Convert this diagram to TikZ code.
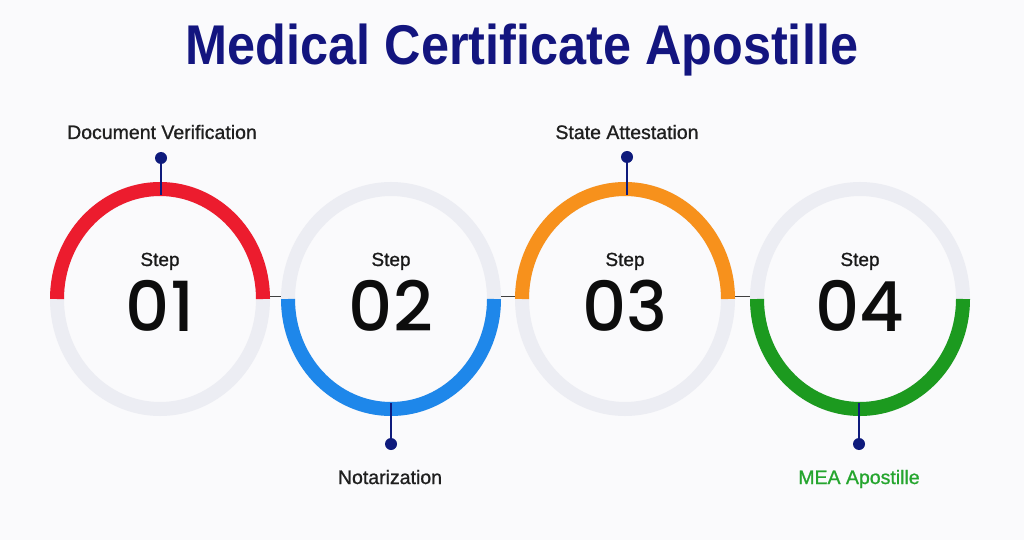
\documentclass[tikz,border=0pt]{standalone}
\usepackage{fontspec}
\usetikzlibrary{calc}
\setmainfont{Liberation Sans}
\newfontfamily\popfont{Poppins}[UprightFont=* Medium]
\newfontfamily\lblfont{Liberation Sans}[FakeBold=1.0]
\definecolor{bgc}{HTML}{FAFAFC}
\definecolor{ringgray}{HTML}{ECEDF3}
\definecolor{navy}{HTML}{0E1A7C}
\definecolor{titlec}{HTML}{13157F}
\definecolor{cred}{HTML}{EC1C2E}
\definecolor{cblue}{HTML}{1E87EA}
\definecolor{corange}{HTML}{F7911C}
\definecolor{cgreen}{HTML}{1C9A1F}
\definecolor{lgreen}{HTML}{25A52E}
\tikzset{
  ringbase/.style={draw=ringgray,line width=14pt},
  ringcol/.style={line width=14pt},
  pin/.style={draw=navy,line width=1.3pt},
  pindot/.style={circle,fill=navy,inner sep=0pt,minimum size=12pt},
  steptxt/.style={anchor=base,inner sep=0pt,font=\lblfont\fontsize{19}{20}\selectfont,text=black!90},
  numtxt/.style={anchor=base,inner sep=0pt,font=\popfont\fontsize{69}{70}\selectfont,text=black!95},
  lbl/.style={anchor=base,inner sep=0pt,font=\lblfont\fontsize{19.5}{20}\selectfont,text=black!88},
  link/.style={draw=black!75,line width=1pt}
}
\begin{document}
\begin{tikzpicture}[x=1pt,y=-1pt]
\fill[bgc] (0,0) rectangle (1024,540);
\useasboundingbox (0,0) rectangle (1024,540);
\node[anchor=base,inner sep=0pt,font=\bfseries\fontsize{56}{60}\selectfont,text=titlec,xscale=0.9] (title) at (522,65) {Medical Certificate Apostille};
% rings
\foreach \cx/\nm in {160/a,391/b,625/c,860/d}{
  \draw[ringbase] (\cx,299) ellipse[x radius=103,y radius=110];
  \coordinate (\nm) at (\cx,299);
  \coordinate (\nm L) at (\cx-110,296);
  \coordinate (\nm R) at (\cx+110,296);
}
\draw[ringcol,cred] ($(a)+(-103,0)$) arc[start angle=180,end angle=360,x radius=103,y radius=110];
\draw[ringcol,cblue] ($(b)+(103,0)$) arc[start angle=0,end angle=180,x radius=103,y radius=110];
\draw[ringcol,corange] ($(c)+(-103,0)$) arc[start angle=180,end angle=360,x radius=103,y radius=110];
\draw[ringcol,cgreen] ($(d)+(103,0)$) arc[start angle=0,end angle=180,x radius=103,y radius=110];
% links between rings
\draw[link] (aR) -- (bL);
\draw[link] (bR) -- (cL);
\draw[link] (cR) -- (dL);
% pins
\node[pindot] (pa) at (161,158) {};
\node[pindot] (pb) at (391,444) {};
\node[pindot] (pc) at (627,157) {};
\node[pindot] (pd) at (859,444) {};
\coordinate (ta) at (161,195);
\coordinate (tb) at (391,403);
\coordinate (tc) at (627,195);
\coordinate (td) at (859,403);
\draw[pin] (pa) -- (ta);
\draw[pin] (pb) -- (tb);
\draw[pin] (pc) -- (tc);
\draw[pin] (pd) -- (td);
% texts
\foreach \cx/\nm/\n in {160/a/01,391/b/02,625/c/03,860/d/04}{
  \node[steptxt] (s\nm) at (\cx,266) {Step};
  \node[numtxt] (n\nm) at (\cx,331) {\n};
}
\node[lbl] (la) at (162,139) {Document Verification};
\node[lbl] (lb) at (390,484) {Notarization};
\node[lbl] (lc) at (627,139) {State Attestation};
\node[lbl,text=lgreen] (ld) at (859,484) {MEA Apostille};
\end{tikzpicture}
\end{document}
